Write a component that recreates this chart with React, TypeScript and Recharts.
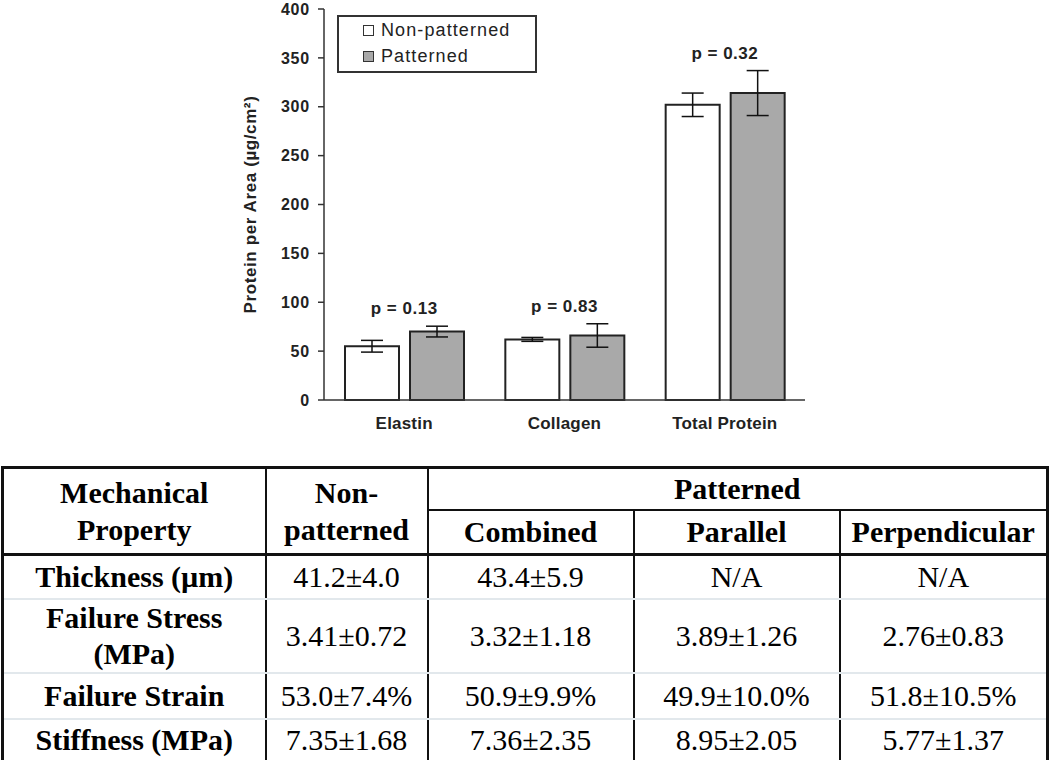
import { ComposedChart, Bar, Line, XAxis, YAxis, ErrorBar, LabelList, Legend } from 'recharts'

const categories = ['Elastin', 'Collagen', 'Total Protein']
const nonPatterned = [55, 62, 302]
const nonPatternedErr = [6, 2, 12]
const patterned = [70, 66, 314]
const patternedErr = [5.5, 12, 23]
const pLabels = ['p = 0.13', 'p = 0.83', 'p = 0.32']
const yTicks = [0, 50, 100, 150, 200, 250, 300, 350, 400]
const boundaryTicks = [0, 1, 2, 3]

const tableHeadTop = ['Mechanical Property', 'Non-patterned', 'Patterned']
const tableHeadSub = ['Combined', 'Parallel', 'Perpendicular']
const propertyNames = ['Thickness (µm)', 'Failure Stress (MPa)', 'Failure Strain', 'Stiffness (MPa)']
const nonPatternedCol = ['41.2±4.0', '3.41±0.72', '53.0±7.4%', '7.35±1.68']
const combinedCol = ['43.4±5.9', '3.32±1.18', '50.9±9.9%', '7.36±2.35']
const parallelCol = ['N/A', '3.89±1.26', '49.9±10.0%', '8.95±2.05']
const perpendicularCol = ['N/A', '2.76±0.83', '51.8±10.5%', '5.77±1.37']

const data = categories.map((category, i) => ({
  category,
  nonPatterned: nonPatterned[i],
  nonPatternedErr: nonPatternedErr[i],
  patterned: patterned[i],
  patternedErr: patternedErr[i],
  pTop: Math.max(nonPatterned[i] + nonPatternedErr[i], patterned[i] + patternedErr[i]),
  pLabel: pLabels[i],
}))

const SANS = '"Liberation Sans", Arial, sans-serif'
const SERIF = '"Liberation Serif", "Times New Roman", serif'
const INK = '#222'

function LegendBox({ payload }: { payload?: { value: string; color: string; dataKey?: string; type?: string }[] }) {
  const items = (payload ?? []).filter(p => p.dataKey !== 'pTop' && p.type !== 'none')
  return (
    <div style={{
      border: '2px solid #333', boxSizing: 'border-box', width: 200, height: 58,
      paddingLeft: 24, fontFamily: SANS, fontSize: 18, letterSpacing: 1.1, color: INK,
      background: '#fff', whiteSpace: 'nowrap',
    }}>
      {items.map(p => (
        <div key={p.value} style={{ display: 'flex', alignItems: 'center', height: 26 }}>
          <span style={{
            width: 11, height: 11, boxSizing: 'border-box', border: '1.5px solid #333',
            background: p.color, marginRight: 7, display: 'inline-block', flexShrink: 0,
          }} />
          {p.value}
        </div>
      ))}
    </div>
  )
}

const dark = '2px solid #111'
const light = '2px solid #e2e8ec'

const cell = (extra: React.CSSProperties = {}): React.CSSProperties => ({
  borderLeft: dark, borderRight: dark, padding: '0 4px', textAlign: 'center',
  verticalAlign: 'middle', ...extra,
})

export default function App() {
  const rowHeights = [44, 72, 46, 43]
  return (
    <div style={{ position: 'absolute', left: 0, top: 0, width: 1050, height: 760, background: '#fff', overflow: 'hidden' }}>
      <div style={{ position: 'absolute', left: 0, top: 0 }}>
        <ComposedChart
          width={1050}
          height={445}
          data={data}
          margin={{ top: 9, right: 245, left: 176, bottom: 0 }}
          barGap={11}
        >
          <XAxis
            xAxisId="bounds"
            type="number"
            domain={[0, 3]}
            ticks={boundaryTicks}
            tick={false}
            axisLine={false}
            tickLine={{ stroke: '#333', strokeWidth: 1.5 }}
            tickSize={6}
            height={0}
          />
          <XAxis
            dataKey="category"
            interval={0}
            tickLine={false}
            tickSize={0}
            tickMargin={17}
            height={45}
            axisLine={{ stroke: '#333', strokeWidth: 1.5 }}
            tick={{ fontSize: 17, fontWeight: 'bold', fill: INK, fontFamily: SANS, letterSpacing: 0.2 }}
          />
          <XAxis xAxisId="top" orientation="top" height={0} tick={false} tickLine={false} axisLine={{ stroke: '#777', strokeWidth: 1.5 }} />
          <YAxis
            domain={[0, 400]}
            ticks={yTicks}
            width={148}
            tickSize={6}
            tickMargin={8}
            axisLine={{ stroke: '#333', strokeWidth: 1.5 }}
            tickLine={{ stroke: '#333', strokeWidth: 1.5 }}
            tick={{ fontSize: 16, fontWeight: 'bold', fill: INK, fontFamily: SANS, letterSpacing: 0.8 }}
            label={{
              value: 'Protein per Area (µg/cm²)', angle: -90, position: 'center',
              style: { fontSize: 17, fontWeight: 'bold', fill: INK, fontFamily: SANS, letterSpacing: 0.6, textAnchor: 'middle' },
            }}
          />
          <YAxis yAxisId="right" orientation="right" width={0} tick={false} tickLine={false} axisLine={{ stroke: '#777', strokeWidth: 1.5 }} />
          <Legend
            layout="vertical"
            align="center"
            verticalAlign="middle"
            wrapperStyle={{ left: 337, top: 15, width: 200 }}
            content={<LegendBox />}
          />
          <Bar dataKey="nonPatterned" name="Non-patterned" fill="#ffffff" stroke="#222" strokeWidth={2} barSize={54} isAnimationActive={false}>
            <ErrorBar dataKey="nonPatternedErr" width={11} stroke="#111" strokeWidth={1.5} isAnimationActive={false} />
          </Bar>
          <Bar dataKey="patterned" name="Patterned" fill="#a9a9a9" stroke="#222" strokeWidth={2} barSize={54} isAnimationActive={false}>
            <ErrorBar dataKey="patternedErr" width={11} stroke="#111" strokeWidth={1.5} isAnimationActive={false} />
          </Bar>
          <Line dataKey="pTop" stroke="none" dot={false} activeDot={false} legendType="none" isAnimationActive={false}>
            <LabelList
              dataKey="pLabel"
              position="top"
              offset={12}
              style={{ fontSize: 17, fontWeight: 'bold', fill: INK, fontFamily: SANS, letterSpacing: 0.5 }}
            />
          </Line>
        </ComposedChart>
      </div>

      <table style={{
        position: 'absolute', left: 1, top: 466, width: 1048, borderCollapse: 'collapse',
        tableLayout: 'fixed', border: '3px solid #111', fontFamily: SERIF, fontSize: 30,
        lineHeight: '36px', color: '#000',
      }}>
        <colgroup>
          <col style={{ width: 263 }} />
          <col style={{ width: 162 }} />
          <col style={{ width: 206 }} />
          <col style={{ width: 206 }} />
          <col />
        </colgroup>
        <tbody>
          <tr style={{ height: 42 }}>
            <th rowSpan={2} style={cell({ borderBottom: '3px solid #111', lineHeight: '37px' })}>{tableHeadTop[0]}</th>
            <th rowSpan={2} style={cell({ borderBottom: '3px solid #111', lineHeight: '37px' })}>{tableHeadTop[1]}</th>
            <th colSpan={3} style={cell({ borderBottom: dark })}>{tableHeadTop[2]}</th>
          </tr>
          <tr style={{ height: 45 }}>
            {tableHeadSub.map(h => (
              <th key={h} style={cell({ borderBottom: '3px solid #111' })}>{h}</th>
            ))}
          </tr>
          {propertyNames.map((name, i) => (
            <tr key={name} style={{ height: rowHeights[i] }}>
              <th style={cell({ borderBottom: i < 3 ? light : undefined })}>{name}</th>
              {[nonPatternedCol[i], combinedCol[i], parallelCol[i], perpendicularCol[i]].map((v, j) => (
                <td key={j} style={cell({ borderBottom: i < 3 ? light : undefined })}>{v}</td>
              ))}
            </tr>
          ))}
        </tbody>
      </table>
    </div>
  )
}
